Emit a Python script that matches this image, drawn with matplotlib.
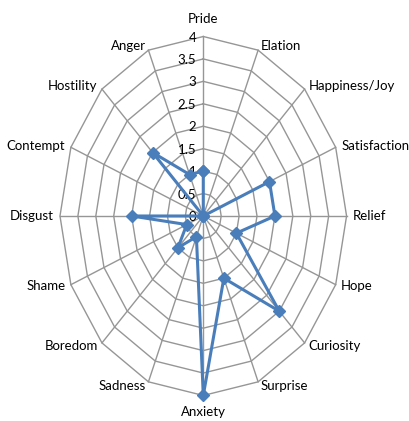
#
# Radar chart of emotion ratings (Excel style, polygon grid)
#
import matplotlib
matplotlib.use('Agg')
import matplotlib.pyplot as plt
import numpy as np

plt.rcParams['font.family'] = ['Lato', 'DejaVu Sans']

categories = ['Pride', 'Elation', 'Happiness/Joy', 'Satisfaction', 'Relief', 'Hope',
              'Curiosity', 'Surprise', 'Anxiety', 'Sadness', 'Boredom', 'Shame',
              'Disgust', 'Contempt', 'Hostility', 'Anger']
values = [1, 0, 0, 2, 2, 1, 3, 1.5, 4, 0.5, 1, 0.5, 2, 0, 2, 1]
rings = [0.5, 1, 1.5, 2, 2.5, 3, 3.5, 4]
ring_labels = ['0', '0.5', '1', '1.5', '2', '2.5', '3', '3.5', '4']

n = len(categories)
theta = np.arange(n) * 2 * np.pi / n
theta_closed = np.append(theta, theta[0])

fig = plt.figure(figsize=(4.10, 4.21), dpi=100)
ax = fig.add_axes([0.1463, 0.0606, 0.699, 0.8527], projection='polar')
ax.set_aspect('auto')
ax.set_theta_zero_location('N')
ax.set_theta_direction(-1)
ax.set_ylim(0, 4)
ax.grid(False)
ax.set_xticks([])
ax.set_yticks([])
ax.spines['polar'].set_visible(False)
ax.patch.set_visible(False)

grid_col = '#969696'
# polygon rings
for r in rings:
    ax.plot(theta_closed, [r] * (n + 1), color=grid_col, lw=1.0, clip_on=False, zorder=1)
# spokes
for t in theta:
    ax.plot([t, t], [0, 4], color=grid_col, lw=1.0, clip_on=False, zorder=1)

# data series
vals_closed = values + [values[0]]
ax.plot(theta_closed, vals_closed, color='#4a7ebb', lw=2.2, marker='D', ms=6.5,
        clip_on=False, zorder=3)

# radial value labels along the Pride spoke
for i, lab in enumerate(ring_labels):
    ax.annotate(lab, xy=(0, i * 0.5), xytext=(-7, -1), textcoords='offset pixels',
                ha='right', va='center', fontsize=9.5, color='black',
                annotation_clip=False, zorder=2)

# category labels
for t, cat in zip(theta, categories):
    s, c = np.sin(t), np.cos(t)
    if abs(s) < 1e-6:
        ha = 'center'
    elif s > 0:
        ha = 'left'
    else:
        ha = 'right'
    if c > 0.99:
        off = (0, 18)
    elif c < -0.99:
        off = (0, -17)
    else:
        off = (6 * s, 4 * c)
    ax.annotate(cat, xy=(t, 4), xytext=off, textcoords='offset pixels',
                ha=ha, va='center', fontsize=9.5, color='black',
                annotation_clip=False)

fig.savefig('out.png', dpi=100)
